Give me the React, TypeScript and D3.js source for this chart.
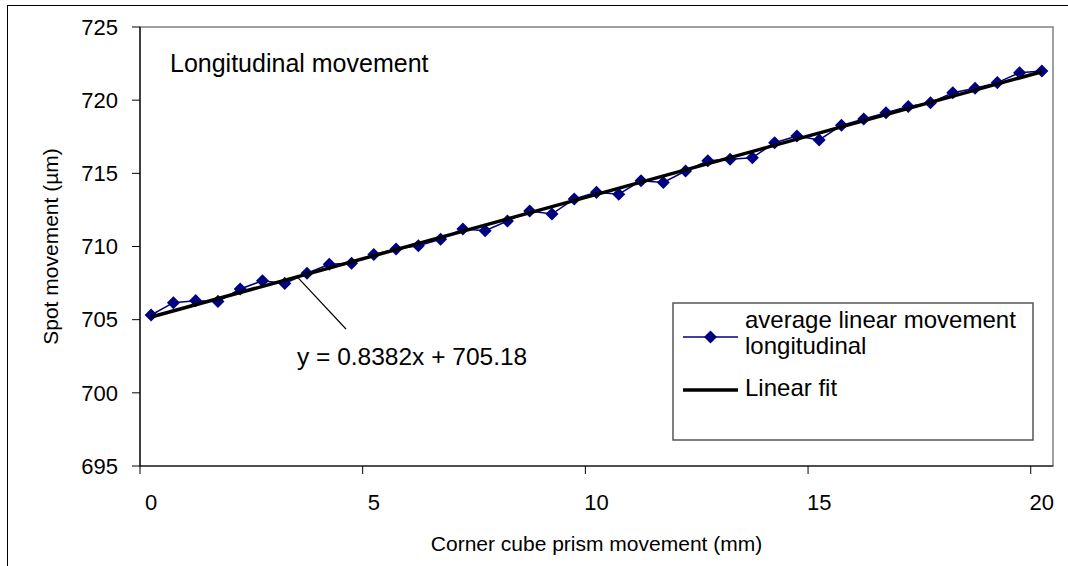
import React, { useEffect, useRef } from 'react';
import * as d3 from 'd3';

// corner cube prism movement (mm), one category per measurement
const positions = [
  0, 0.5, 1, 1.5, 2, 2.5, 3, 3.5, 4, 4.5,
  5, 5.5, 6, 6.5, 7, 7.5, 8, 8.5, 9, 9.5,
  10, 10.5, 11, 11.5, 12, 12.5, 13, 13.5, 14, 14.5,
  15, 15.5, 16, 16.5, 17, 17.5, 18, 18.5, 19, 19.5, 20,
];

// average linear movement longitudinal (µm)
const spotMovement = [
  705.32, 706.16, 706.3, 706.25, 707.1, 707.66, 707.48, 708.17, 708.78, 708.85,
  709.45, 709.83, 710.05, 710.49, 711.2, 711.08, 711.74, 712.43, 712.22, 713.25,
  713.7, 713.57, 714.5, 714.38, 715.16, 715.86, 715.96, 716.07, 717.09, 717.55,
  717.28, 718.28, 718.71, 719.14, 719.56, 719.83, 720.51, 720.81, 721.2, 721.88,
  721.99,
];

// trendline from the chart label
const fitSlope = 0.8382;
const fitIntercept = 705.18;

const yTicks = [695, 700, 705, 710, 715, 720, 725];
const xTickLabels = ['0', '5', '10', '15', '20'];

const FONT = '"Liberation Sans", Arial, sans-serif';
const NAVY = '#000080';

export default function App() {
  const ref = useRef<SVGSVGElement | null>(null);

  useEffect(() => {
    const width = 1068;
    const height = 566;
    const left = 140, right = 1053, top = 27, bottom = 466;

    const svg = d3.select(ref.current);
    svg.selectAll('*').remove();
    svg.attr('width', width).attr('height', height);

    svg.append('rect').attr('width', width).attr('height', height).attr('fill', '#fff');
    // outer chart border
    svg.append('rect')
      .attr('x', 7.5).attr('y', 5.5)
      .attr('width', width).attr('height', height)
      .attr('fill', 'none').attr('stroke', '#000').attr('stroke-width', 1);

    const cats = positions.map(String);
    const x = d3.scaleBand().domain(cats).range([left, right]).padding(0);
    const bw = x.bandwidth();
    const cx = (i: number) => (x(cats[i]) as number) + bw / 2;
    const xLin = d3.scaleLinear()
      .domain([positions[0], positions[positions.length - 1]])
      .range([cx(0), cx(positions.length - 1)]);
    const y = d3.scaleLinear().domain([695, 725]).range([bottom, top]);

    // plot area border
    svg.append('rect')
      .attr('x', left).attr('y', top)
      .attr('width', right - left).attr('height', bottom - top)
      .attr('fill', 'none').attr('stroke', '#808080').attr('stroke-width', 1.5);

    // y axis
    svg.append('line')
      .attr('x1', left).attr('x2', left).attr('y1', top).attr('y2', bottom)
      .attr('stroke', '#000').attr('stroke-width', 1.2);
    const yt = svg.append('g');
    yt.selectAll('line').data(yTicks).enter().append('line')
      .attr('x1', left - 8).attr('x2', left)
      .attr('y1', d => y(d)).attr('y2', d => y(d))
      .attr('stroke', '#000');
    yt.selectAll('text').data(yTicks).enter().append('text')
      .attr('x', 118).attr('y', d => y(d))
      .attr('dy', '0.35em').attr('text-anchor', 'end')
      .style('font-family', FONT).style('font-size', '22px')
      .text(d => d);

    // x axis
    svg.append('line')
      .attr('x1', left).attr('x2', right).attr('y1', bottom).attr('y2', bottom)
      .attr('stroke', '#000').attr('stroke-width', 1.2);
    const tickIdx = positions.map((p, i) => i).filter(i => i % 10 === 0);
    const xt = svg.append('g');
    xt.selectAll('line').data(tickIdx).enter().append('line')
      .attr('x1', i => x(cats[i]) as number).attr('x2', i => x(cats[i]) as number)
      .attr('y1', bottom).attr('y2', bottom + 8)
      .attr('stroke', '#000');
    xt.selectAll('text').data(tickIdx).enter().append('text')
      .attr('x', i => cx(i)).attr('y', 510)
      .attr('text-anchor', 'middle')
      .style('font-family', FONT).style('font-size', '22px')
      .text((i, k) => xTickLabels[k]);

    // axis titles
    svg.append('text')
      .attr('x', (left + right) / 2).attr('y', 551)
      .attr('text-anchor', 'middle')
      .style('font-family', FONT).style('font-size', '21px')
      .text('Corner cube prism movement (mm)');
    svg.append('text')
      .attr('transform', `translate(58,${(top + bottom) / 2}) rotate(-90)`)
      .attr('text-anchor', 'middle')
      .style('font-family', FONT).style('font-size', '21px')
      .text('Spot movement (µm)');

    // chart label
    svg.append('text')
      .attr('x', 170).attr('y', 72)
      .style('font-family', FONT).style('font-size', '25px')
      .text('Longitudinal movement');

    // data series
    const line = d3.line<number>().x((d, i) => cx(i)).y(d => y(d));
    svg.append('path')
      .datum(spotMovement)
      .attr('d', line)
      .attr('fill', 'none').attr('stroke', NAVY).attr('stroke-width', 1.5);
    const diamond = d3.symbol().type(d3.symbolSquare).size(85);
    svg.append('g').selectAll('path').data(spotMovement).enter().append('path')
      .attr('d', diamond)
      .attr('transform', (d, i) => `translate(${cx(i)},${y(d)}) rotate(45)`)
      .attr('fill', NAVY);

    // linear fit
    const x0 = positions[0], x1 = positions[positions.length - 1];
    svg.append('line')
      .attr('x1', xLin(x0)).attr('y1', y(fitIntercept + fitSlope * x0))
      .attr('x2', xLin(x1)).attr('y2', y(fitIntercept + fitSlope * x1))
      .attr('stroke', '#000').attr('stroke-width', 3.5);

    // equation callout
    const anchorX = 3.28;
    svg.append('line')
      .attr('x1', xLin(anchorX)).attr('y1', y(fitIntercept + fitSlope * anchorX))
      .attr('x2', 346).attr('y2', 329)
      .attr('stroke', '#000').attr('stroke-width', 1.2);
    svg.append('text')
      .attr('x', 297).attr('y', 365)
      .style('font-family', FONT).style('font-size', '24.5px')
      .text(`y = ${fitSlope}x + ${fitIntercept}`);

    // legend
    const lg = svg.append('g');
    lg.append('rect')
      .attr('x', 673).attr('y', 303).attr('width', 360).attr('height', 137)
      .attr('fill', '#fff').attr('stroke', '#555').attr('stroke-width', 1.5);
    lg.append('line')
      .attr('x1', 683).attr('x2', 738).attr('y1', 337).attr('y2', 337)
      .attr('stroke', NAVY).attr('stroke-width', 1.5);
    lg.append('path')
      .attr('d', diamond)
      .attr('transform', 'translate(710.5,337) rotate(45)')
      .attr('fill', NAVY);
    lg.append('text')
      .attr('x', 745).attr('y', 328)
      .style('font-family', FONT).style('font-size', '24px')
      .text('average linear movement');
    lg.append('text')
      .attr('x', 745).attr('y', 354)
      .style('font-family', FONT).style('font-size', '24px')
      .text('longitudinal');
    lg.append('line')
      .attr('x1', 683).attr('x2', 738).attr('y1', 390).attr('y2', 390)
      .attr('stroke', '#000').attr('stroke-width', 3.5);
    lg.append('text')
      .attr('x', 745).attr('y', 396)
      .style('font-family', FONT).style('font-size', '24px')
      .text('Linear fit');
  }, []);

  return (
    <svg ref={ref} style={{ position: 'absolute', left: 0, top: 0, display: 'block' }} />
  );
}
